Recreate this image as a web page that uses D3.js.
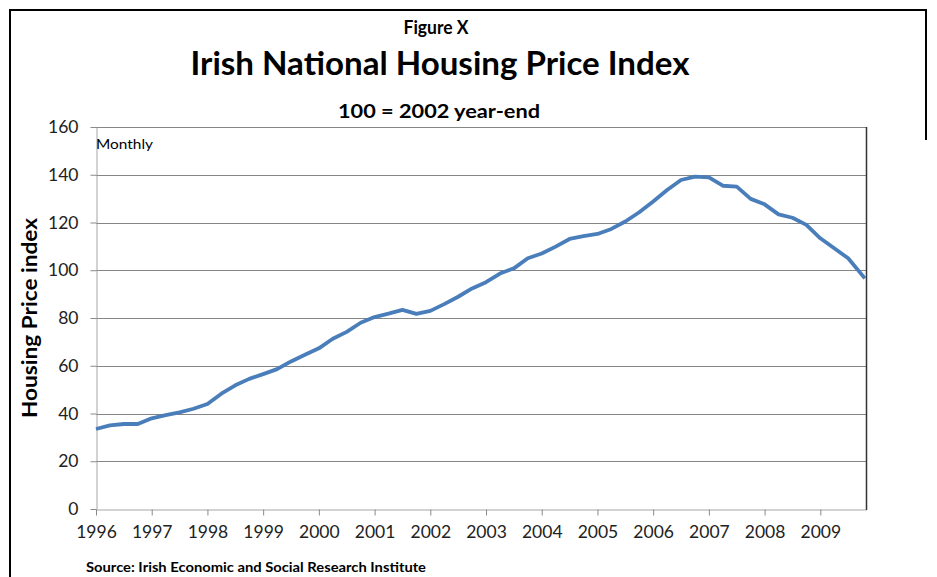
<!DOCTYPE html>
<html><head><meta charset="utf-8">
<script src="https://cdn.jsdelivr.net/npm/d3@7"></script>
<style>
body{margin:0;background:#fff}
svg{display:block}
text{font-family:Lato,"Open Sans",sans-serif}
</style>
</head><body>
<svg id="chart" width="937" height="577"></svg>
<script>
// ---- data ----
const dates = [
  1996.00,1996.25,1996.50,1996.75,1997.00,1997.25,1997.50,1997.75,
  1998.00,1998.25,1998.50,1998.75,1999.00,1999.25,1999.50,1999.75,
  2000.00,2000.25,2000.50,2000.75,2001.00,2001.25,2001.50,2001.75,
  2002.00,2002.25,2002.50,2002.75,2003.00,2003.25,2003.50,2003.75,
  2004.00,2004.25,2004.50,2004.75,2005.00,2005.25,2005.50,2005.75,
  2006.00,2006.25,2006.50,2006.75,2007.00,2007.25,2007.50,2007.75,
  2008.00,2008.25,2008.50,2008.75,2009.00,2009.25,2009.50,2009.80
];
const index = [
  33.5,35.0,35.6,35.6,38.0,39.3,40.5,42.0,
  44.0,48.3,51.8,54.5,56.5,58.6,61.8,64.6,
  67.3,71.3,74.2,78.0,80.4,81.8,83.4,81.7,
  83.0,85.8,88.9,92.4,95.0,98.6,100.8,105.0,
  107.0,109.9,113.1,114.3,115.2,117.3,120.4,124.3,
  128.8,133.6,137.8,139.2,138.9,135.4,135.0,129.9,
  127.6,123.4,122.0,119.0,113.4,109.2,105.0,96.6
];
const yTicks = [0,20,40,60,80,100,120,140,160];
const xTicks = [1996,1997,1998,1999,2000,2001,2002,2003,2004,2005,2006,2007,2008,2009];
const xDomain = [1996, 2009.82];
const yDomain = [0, 160];

const figLabel = "Figure X";
const titleText = "Irish National Housing Price Index";
const subtitleText = "100 = 2002 year-end";
const yTitle = "Housing Price index";
const noteText = "Monthly";
const sourceText = "Source: Irish Economic and Social Research Institute";

// ---- layout ----
const svg = d3.select("#chart");
const L = 96, R = 866, T = 127, B = 509;
const x = d3.scaleLinear().domain(xDomain).range([L, R]);
const y = d3.scaleLinear().domain(yDomain).range([B, T]);

// outer frame
svg.append("line").attr("x1",10).attr("y1",10).attr("x2",10).attr("y2",577)
  .attr("stroke","#000").attr("stroke-width",2);
svg.append("line").attr("x1",9).attr("y1",10).attr("x2",926).attr("y2",10)
  .attr("stroke","#000").attr("stroke-width",2);
svg.append("line").attr("x1",926).attr("y1",9).attr("x2",926).attr("y2",140)
  .attr("stroke","#000").attr("stroke-width",2);

// gridlines
svg.append("g").selectAll("line").data(yTicks.filter(d=>d>0)).join("line")
  .attr("x1",L).attr("x2",R)
  .attr("y1",d=>Math.round(y(d))+0.5).attr("y2",d=>Math.round(y(d))+0.5)
  .attr("stroke","#868686").attr("stroke-width",1);

// y axis
const gy = svg.append("g").attr("transform",`translate(${L+0.5},0)`)
  .call(d3.axisLeft(y).tickValues(yTicks).tickSize(6).tickSizeOuter(0).tickPadding(12));
gy.select(".domain").attr("stroke","#a6a6a6");
gy.selectAll(".tick line").attr("stroke","#8a8a8a");
gy.selectAll(".tick text").attr("fill","#222").style("font-size","17.5px");

// x axis
const gx = svg.append("g").attr("transform",`translate(0,${B+0.5})`)
  .call(d3.axisBottom(x).tickValues(xTicks).tickFormat(d3.format("d")).tickSize(6).tickSizeOuter(0).tickPadding(10));
gx.select(".domain").attr("stroke","#a6a6a6");
gx.selectAll(".tick line").attr("stroke","#8a8a8a");
gx.selectAll(".tick text").attr("fill","#222").style("font-size","17.5px");

// plot right border
svg.append("line").attr("x1",R+0.5).attr("x2",R+0.5).attr("y1",T).attr("y2",B+1)
  .attr("stroke","#333").attr("stroke-width",1.5);

// line
const line = d3.line().x((d,i)=>x(dates[i])).y(d=>y(d));
svg.append("path").datum(index).attr("d",line)
  .attr("fill","none").attr("stroke","#4a7ebb").attr("stroke-width",3.8)
  .attr("stroke-linejoin","round").attr("stroke-linecap","butt");

// texts
function txt(s, px, py, size, weight, anchor, width){
  const t = svg.append("text").attr("x",px).attr("y",py).text(s)
    .attr("text-anchor",anchor).attr("fill","#000")
    .style("font-size",size+"px").style("font-weight",weight);
  if(width) t.attr("textLength",width).attr("lengthAdjust","spacingAndGlyphs");
  return t;
}
txt(figLabel, 436, 34, 18, 700, "middle", 65);
txt(titleText, 440, 75, 33, 700, "middle", 499);
txt(subtitleText, 439, 118, 19.5, 700, "middle", 202);
txt(noteText, 96, 149, 13, 400, "start", 57);
txt(sourceText, 86, 572, 13.5, 700, "start", 340);
svg.append("text").attr("transform","translate(37,318) rotate(-90)")
  .attr("text-anchor","middle").attr("fill","#000")
  .style("font-size","20px").style("font-weight",700)
  .attr("textLength",200).attr("lengthAdjust","spacingAndGlyphs")
  .text(yTitle);
</script>
</body></html>
